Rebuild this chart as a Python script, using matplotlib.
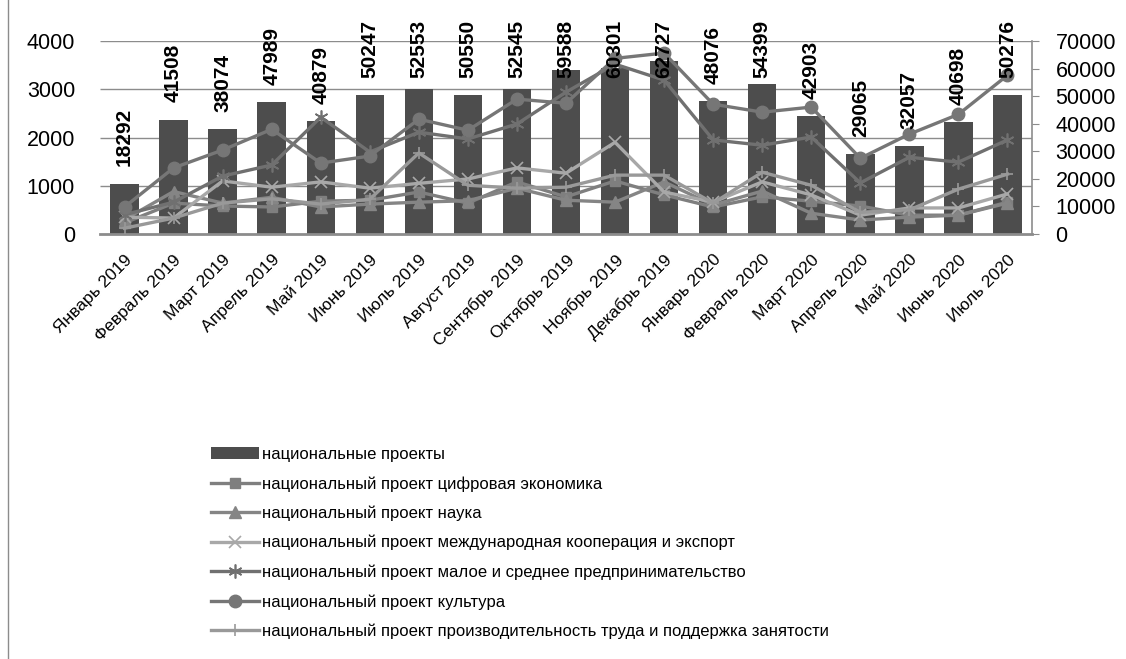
import matplotlib.pyplot as plt
import matplotlib.transforms as mtransforms
from matplotlib.lines import Line2D

plt.rcParams['font.family'] = ['Liberation Sans', 'DejaVu Sans']

months = ['Январь 2019', 'Февраль 2019', 'Март 2019', 'Апрель 2019', 'Май 2019',
          'Июнь 2019', 'Июль 2019', 'Август 2019', 'Сентябрь 2019', 'Октябрь 2019',
          'Ноябрь 2019', 'Декабрь 2019', 'Январь 2020', 'Февраль 2020', 'Март 2020',
          'Апрель 2020', 'Май 2020', 'Июнь 2020', 'Июль 2020']

# bars, right axis
national = [18292, 41508, 38074, 47989, 40879, 50247, 52553, 50550, 52545, 59588,
            60301, 62727, 48076, 54399, 42903, 29065, 32057, 40698, 50276]

# lines, left axis
digital = [230, 640, 580, 560, 680, 700, 870, 640, 1080, 770,
           1100, 810, 560, 770, 680, 580, 390, 390, 660]
science = [300, 880, 640, 760, 560, 620, 660, 690, 950, 700,
           660, 1080, 600, 890, 430, 290, 350, 390, 640]
export = [350, 330, 1100, 970, 1080, 950, 1050, 1140, 1370, 1260,
          1900, 870, 660, 1080, 810, 390, 540, 540, 830]
msp = [400, 660, 1200, 1430, 2420, 1700, 2110, 1970, 2280, 2940,
       3520, 3190, 1950, 1840, 2010, 1060, 1590, 1490, 1950]
culture = [560, 1370, 1740, 2170, 1470, 1615, 2380, 2150, 2795, 2710,
           3640, 3750, 2690, 2525, 2630, 1570, 2070, 2480, 3290]
productivity = [120, 330, 640, 730, 620, 720, 1680, 1010, 950, 970,
                1220, 1220, 640, 1280, 1010, 450, 500, 930, 1240]

left_ticks = [0, 1000, 2000, 3000, 4000]
right_ticks = [0, 10000, 20000, 30000, 40000, 50000, 60000, 70000]

grid_col = '#8c8c8c'

fig = plt.figure(figsize=(11.26, 6.59), dpi=100)
ax = fig.add_axes([100 / 1126, 1 - 234 / 659, 932 / 1126, 193 / 659])
ax2 = ax.twinx()

x = list(range(len(months)))

# bars on the right-hand scale
bars = ax.bar(x, national, width=0.58, color='#4d4d4d', zorder=2,
              label='национальные проекты')
ax.set_ylim(0, 70000)
ax.set_xlim(-0.5, len(months) - 0.5)
ax.yaxis.tick_right()
ax.set_yticks(right_ticks)
ax.tick_params(axis='y', direction='out', length=5, color=grid_col, labelsize=15.5, pad=12)
ax.set_xticks(x)
ax.set_xticklabels(months, rotation=45, ha='right', rotation_mode='anchor', fontsize=12.5)
ax.tick_params(axis='x', length=0, pad=13)
for s in ['left', 'top']:
    ax.spines[s].set_visible(False)
ax.spines['bottom'].set_color(grid_col)
ax.spines['bottom'].set_linewidth(2)
ax.spines['right'].set_color(grid_col)
ax.spines['right'].set_linewidth(1.2)

# lines on the left-hand scale
ax2.set_ylim(0, 4000)
ax2.yaxis.tick_left()
ax2.set_yticks(left_ticks)
ax2.tick_params(axis='y', length=0, labelsize=15.5, pad=18)
for s in ax2.spines.values():
    s.set_visible(False)

# gridlines behind bars, at the left scale positions
trans = mtransforms.blended_transform_factory(ax.transAxes, ax2.transData)
ax.hlines(left_ticks[1:], 0, 1, transform=trans, colors=grid_col, linewidth=1, zorder=1)

lw = 2.4
ax2.plot(x, digital, color='#7f7f7f', lw=lw, marker='s', ms=7,
         label='национальный проект цифровая экономика')
ax2.plot(x, science, color='#858585', lw=lw, marker='^', ms=8,
         label='национальный проект наука')
ax2.plot(x, export, color='#a8a8a8', lw=lw, marker='x', ms=8, mew=1.2,
         label='национальный проект международная кооперация и экспорт')
ax2.plot(x, msp, color='#707070', lw=lw, marker=(6, 2, 0), ms=10, mew=1.2,
         label='национальный проект малое и среднее предпринимательство')
ax2.plot(x, culture, color='#767676', lw=lw, marker='o', ms=9,
         label='национальный проект культура')
ax2.plot(x, productivity, color='#999999', lw=lw, marker='+', ms=9, mew=1.2,
         label='национальный проект производительность труда и поддержка занятости')

# value labels over the bars (drawn above the lines), kept inside the chart area
for xi, v in zip(x, national):
    ax2.text(xi, min(v + 6200, 56600), str(v), transform=ax.transData, rotation=90,
             ha='center', va='bottom', fontsize=15, fontweight='bold',
             clip_on=False, zorder=5)

handles = [bars] + ax2.get_lines()
labels = [h.get_label() for h in handles]
fig.legend(handles, labels, loc='upper left', bbox_to_anchor=(211 / 1126, 1 - 447 / 659),
           frameon=False, fontsize=12, handlelength=2.9, handletextpad=0.15,
           labelspacing=0.84, borderpad=0, borderaxespad=0)

# chart area border on the left
fig.add_artist(Line2D([8 / 1126, 8 / 1126], [0, 1], transform=fig.transFigure,
                      color=grid_col, lw=1))

fig.savefig('out.png', dpi=100)
